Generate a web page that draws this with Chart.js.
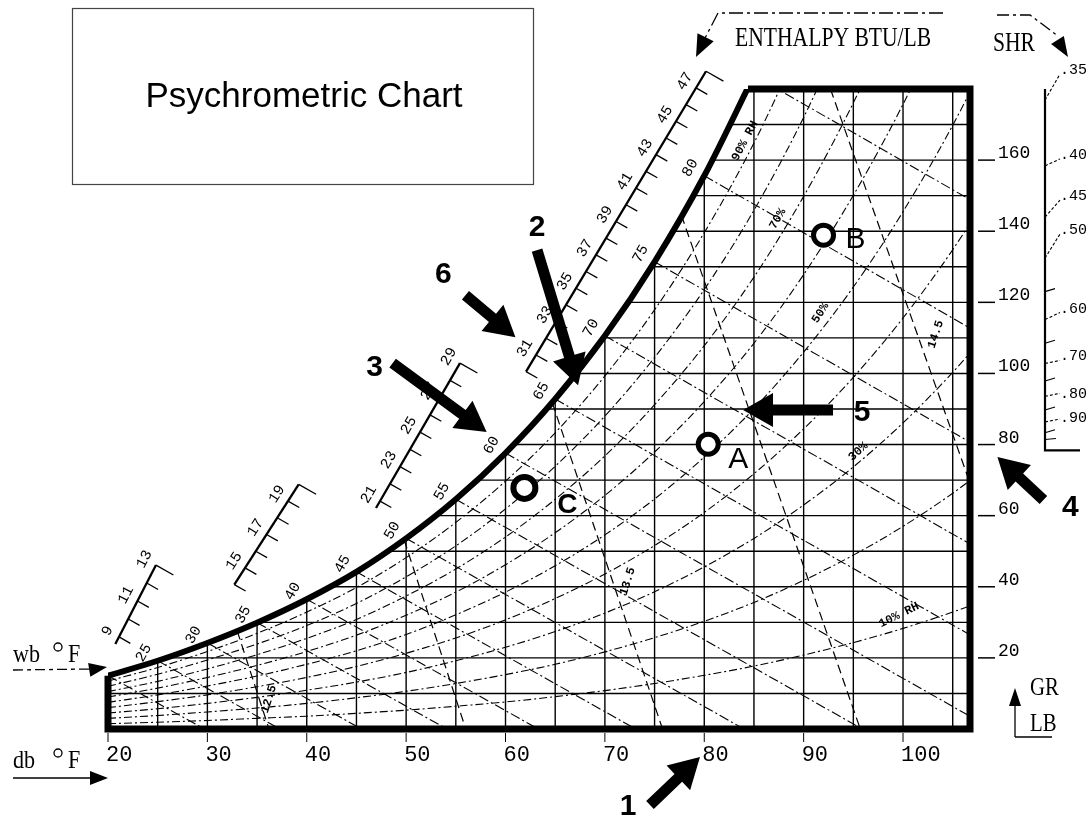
<!DOCTYPE html>
<html>
<head>
<meta charset="utf-8">
<title>Psychrometric Chart</title>
<script src="https://cdn.jsdelivr.net/npm/chart.js@4.4.1/dist/chart.umd.min.js"></script>
<style>
  html, body { margin: 0; padding: 0; background: #fff; }
  canvas { display: block; }
</style>
</head>
<body>
<canvas id="psy" width="1090" height="820"></canvas>
<script>
// dry bulb in F, humidity ratio in grains per lb of dry air
const dbLabels = [20, 30, 40, 50, 60, 70, 80, 90, 100];
const grLabels = [20, 40, 60, 80, 100, 120, 140, 160];

// saturation (100% rh) curve
const satDb = [20, 25, 30, 35, 40, 45, 50, 55, 60, 65, 70, 75, 80, 85];
const satGr = [15.0, 19.2, 24.2, 29.9, 36.5, 44.2, 53.6, 64.6, 77.6, 92.8, 110.6, 131.4, 155.6, 183.8];
const topCornerDb = 84.4;

// grid lines
const dbGrid = [25, 30, 35, 40, 45, 50, 55, 60, 65, 70, 75, 80, 85, 90, 95, 100, 105];
const grGrid = [10, 20, 30, 40, 50, 60, 70, 80, 90, 100, 110, 120, 130, 140, 150, 160, 170];
const grGridStartDb = [20, 25.8, 35.1, 42.3, 48.1, 52.9, 57.1, 60.8, 64.1, 67.0, 69.8, 72.3, 74.7, 76.8, 78.8, 80.8, 82.6];

// relative humidity curves
const rhDb = [20, 25, 30, 35, 40, 45, 50, 55, 60, 65, 70, 75, 80, 85, 90, 95, 100, 105, 110];
const rh10 = [1.5, 1.9, 2.4, 3.0, 3.6, 4.4, 5.3, 6.4, 7.6, 9.1, 10.8, 12.8, 15.1, 17.7, 20.8, 24.3, 28.3, 32.9, 38.1];
const rh20 = [3.0, 3.8, 4.8, 5.9, 7.2, 8.8, 10.6, 12.8, 15.3, 18.2, 21.7, 25.7, 30.3, 35.6, 41.8, 48.9, 57.0, 66.3, 76.9];
const rh30 = [4.5, 5.7, 7.2, 8.9, 10.9, 13.2, 15.9, 19.2, 23.0, 27.4, 32.6, 38.6, 45.6, 53.6, 63.0, 73.7, 86.1, 100.3, 116.4];
const rh40 = [6.0, 7.7, 9.6, 11.9, 14.5, 17.6, 21.3, 25.6, 30.7, 36.7, 43.6, 51.6, 60.9, 71.8, 84.4, 98.9, 115.6, 134.8, 156.6];
const rh50 = [7.5, 9.6, 12.1, 14.9, 18.2, 22.0, 26.6, 32.1, 38.5, 45.9, 54.6, 64.7, 76.5, 90.1, 106.0, 124.3, 145.5, 169.8, 197.5];
const rh60 = [9.0, 11.5, 14.5, 17.9, 21.8, 26.4, 32.0, 38.5, 46.2, 55.2, 65.7, 77.9, 92.1, 108.5, 127.8, 150.1, 175.7, 205.4];
const rh70 = [10.5, 13.4, 16.9, 20.9, 25.5, 30.8, 37.4, 45.0, 54.0, 64.6, 76.8, 91.2, 107.8, 127.1, 149.8, 176.1, 206.3];
const rh80 = [12.0, 15.4, 19.4, 23.9, 29.1, 35.3, 42.8, 51.5, 61.9, 73.9, 88.0, 104.5, 123.6, 145.9, 172.0, 202.4];
const rh90 = [13.5, 17.3, 21.8, 26.9, 32.9, 39.8, 48.2, 58.1, 69.7, 83.3, 99.3, 117.9, 139.6, 164.8, 194.5];

// wet bulb lines: start on saturation, end at 0 grains
const wbDb = [20, 25, 30, 35, 40, 45, 50, 55, 60, 65, 70, 75, 80, 85];
const wbEndDb = [29.7, 37.3, 45.5, 54.1, 63.3, 73.1, 84.0, 95.9, 109.0, 123.4, 139.4, 157.2, 177.1, 199.4];
const wbLabelDb = [25, 30, 35, 40, 45, 50, 55, 60, 65, 70, 75, 80];

// specific volume lines (cu ft / lb)
const volCuft = [12.5, 13.0, 13.5, 14.0, 14.5];
const volBottomDb = [36.2, 56.0, 75.8, 95.7, 115.5];
const volTopDb = [33.0, 49.8, 64.7, 77.7, 92.7];
const volTopGr = [27.6, 53.2, 91.8, 144.5, 180];

// enthalpy scale (btu / lb)
const hLabels = [9, 11, 13, 15, 17, 19, 21, 23, 25, 27, 29, 31, 33, 35, 37, 39, 41, 43, 45, 47];

// sensible heat ratio scale
const shrTicks = [0.35, 0.40, 0.45, 0.50, 0.55, 0.60, 0.65, 0.70, 0.75, 0.80, 0.85, 0.90, 0.95];
const shrLabeled = [0.35, 0.40, 0.45, 0.50, 0.60, 0.70, 0.80, 0.90];

// marked states
const ptNames = ['A', 'B', 'C'];
const ptDb = [80.4, 92.0, 61.9];
const ptGr = [80.1, 138.9, 67.8];

const yTop = 180;
const satAt = (t) => { const i = satDb.indexOf(t); return i >= 0 ? satGr[i] : yTop; };

const datasets = [];
function addLine(pts, opts) {
  datasets.push(Object.assign({
    data: pts, showLine: true, pointRadius: 0, borderColor: '#000',
    borderWidth: 1.3, fill: false
  }, opts || {}));
}

// points on top
datasets.push({
  data: ptDb.map((t, i) => ({ x: t, y: ptGr[i] })),
  showLine: false, pointRadius: [10, 10, 11], borderWidth: [5, 5, 6],
  borderColor: '#000', backgroundColor: '#fff', clip: false
});

// outer frame + saturation curve
addLine([
  { x: 20, y: satGr[0] }, { x: 20, y: 0 }, { x: 106.74, y: 0 },
  { x: 106.74, y: yTop }, { x: topCornerDb, y: yTop }
], { borderWidth: 7, clip: false, borderJoinStyle: 'miter' });
addLine(satDb.map((t, i) => ({ x: t, y: satGr[i] })),
  { borderWidth: 6, cubicInterpolationMode: 'monotone' });

// grid
dbGrid.forEach(t => addLine([{ x: t, y: 0 }, { x: t, y: satAt(t) }], { borderWidth: 1.4 }));
grGrid.forEach((g, i) => addLine([{ x: grGridStartDb[i], y: g }, { x: 106.74, y: g }], { borderWidth: 1.4 }));

// rh curves
[rh10, rh20, rh30, rh40, rh50, rh60, rh70, rh80, rh90].forEach(arr => {
  addLine(arr.map((g, i) => ({ x: rhDb[i], y: g })),
    { borderWidth: 1.1, borderDash: [8, 3, 2, 3], cubicInterpolationMode: 'monotone' });
});

// wet bulb lines
wbDb.forEach((t, i) => addLine([{ x: t, y: satAt(t) }, { x: wbEndDb[i], y: 0 }],
  { borderWidth: 1.1, borderDash: [10, 3, 2, 3] }));

// specific volume lines
volCuft.forEach((v, i) => addLine([{ x: volTopDb[i], y: volTopGr[i] }, { x: volBottomDb[i], y: 0 }],
  { borderWidth: 1.2, borderDash: [9, 5] }));

function condText(ctx, s, x, y, size, sx) {
  ctx.save();
  ctx.translate(x, y);
  ctx.scale(sx, 1);
  ctx.font = size + "px 'Liberation Serif', serif";
  ctx.textAlign = 'left';
  ctx.textBaseline = 'alphabetic';
  ctx.fillText(s, 0, 0);
  ctx.restore();
}

function rotText(ctx, s, x, y, ang, font) {
  ctx.save();
  ctx.translate(x, y);
  ctx.rotate(ang);
  ctx.font = font;
  ctx.textAlign = 'center';
  ctx.textBaseline = 'middle';
  ctx.fillText(s, 0, 0);
  ctx.restore();
}

function bigArrow(ctx, x0, y0, x1, y1, w, hl, hw) {
  const dx = x1 - x0, dy = y1 - y0, L = Math.hypot(dx, dy);
  const ux = dx / L, uy = dy / L, nx = -uy, ny = ux;
  const bx = x1 - ux * hl, by = y1 - uy * hl;
  ctx.beginPath();
  ctx.moveTo(x0 + nx * w / 2, y0 + ny * w / 2);
  ctx.lineTo(bx + nx * w / 2, by + ny * w / 2);
  ctx.lineTo(bx + nx * hw / 2, by + ny * hw / 2);
  ctx.lineTo(x1, y1);
  ctx.lineTo(bx - nx * hw / 2, by - ny * hw / 2);
  ctx.lineTo(bx - nx * w / 2, by - ny * w / 2);
  ctx.lineTo(x0 - nx * w / 2, y0 - ny * w / 2);
  ctx.closePath();
  ctx.fill();
}

function head(ctx, x0, y0, x1, y1, hl, hw) {
  const dx = x1 - x0, dy = y1 - y0, L = Math.hypot(dx, dy);
  const ux = dx / L, uy = dy / L, nx = -uy, ny = ux;
  const bx = x1 - ux * hl, by = y1 - uy * hl;
  ctx.beginPath();
  ctx.moveTo(x1, y1);
  ctx.lineTo(bx + nx * hw / 2, by + ny * hw / 2);
  ctx.lineTo(bx - nx * hw / 2, by - ny * hw / 2);
  ctx.closePath();
  ctx.fill();
}

const decor = {
  id: 'decor',
  afterDraw(chart) {
    const ctx = chart.ctx;
    const area = chart.chartArea;
    const sx = chart.scales.x, sy = chart.scales.y, ss = chart.scales.yShr;
    const X = v => sx.getPixelForValue(v);
    const Y = v => sy.getPixelForValue(v);
    const mono = "'Liberation Mono', 'DejaVu Sans Mono', monospace";
    ctx.save();
    ctx.fillStyle = '#000';
    ctx.strokeStyle = '#000';

    // title box
    ctx.lineWidth = 1.2;
    ctx.strokeStyle = '#444';
    ctx.strokeRect(72.5, 8.5, 461, 176);
    ctx.strokeStyle = '#000';
    ctx.font = "35px 'Liberation Sans', Arial, sans-serif";
    ctx.textAlign = 'center';
    ctx.textBaseline = 'middle';
    ctx.fillText('Psychrometric Chart', 304, 97);

    // dry bulb labels
    ctx.font = '22px ' + mono;
    ctx.textAlign = 'left';
    ctx.lineWidth = 1;
    dbLabels.forEach(t => {
      const x = X(t);
      ctx.beginPath(); ctx.moveTo(x, area.bottom + 4); ctx.lineTo(x, area.bottom + 13); ctx.stroke();
      ctx.fillText(String(t), x - 2, area.bottom + 26);
    });

    // grains labels
    ctx.font = '18px ' + mono;
    ctx.textBaseline = 'alphabetic';
    ctx.lineWidth = 1.5;
    grLabels.forEach(g => {
      const y = Y(g);
      ctx.beginPath(); ctx.moveTo(area.right + 8, y); ctx.lineTo(area.right + 25, y); ctx.stroke();
      ctx.fillText(String(g), area.right + 28, y - 2);
    });

    // GR / LB
    ctx.lineWidth = 1.3;
    const gx = area.right + 45;
    ctx.beginPath(); ctx.moveTo(gx, 737); ctx.lineTo(gx, 704); ctx.stroke();
    ctx.beginPath(); ctx.moveTo(gx, 737); ctx.lineTo(gx + 37, 737); ctx.stroke();
    head(ctx, gx, 737, gx, 688, 18, 12);
    condText(ctx, 'GR', gx + 15, 695, 26, 0.8);
    condText(ctx, 'LB', gx + 15, 731, 26, 0.8);

    // wb / db arrows
    ctx.lineWidth = 1.3;
    condText(ctx, 'wb', 13, 662, 26, 0.85);
    condText(ctx, 'F', 68, 662, 26, 0.85);
    condText(ctx, 'db', 13, 768, 26, 0.85);
    condText(ctx, 'F', 68, 768, 26, 0.85);
    ctx.beginPath(); ctx.arc(58, 647, 4, 0, Math.PI * 2); ctx.stroke();
    ctx.beginPath(); ctx.arc(58, 753, 4, 0, Math.PI * 2); ctx.stroke();
    ctx.setLineDash([10, 4, 4, 4]);
    ctx.beginPath(); ctx.moveTo(13, 670); ctx.lineTo(92, 669); ctx.stroke();
    ctx.setLineDash([]);
    head(ctx, 88, 670, X(20) - 1, 667, 18, 14);
    ctx.beginPath(); ctx.moveTo(13, 778); ctx.lineTo(92, 778); ctx.stroke();
    head(ctx, 88, 778, X(20), 778, 18, 14);

    // enthalpy header
    condText(ctx, 'ENTHALPY BTU/LB', 735, 46, 27, 0.8);
    ctx.setLineDash([14, 4, 3, 4]);
    ctx.beginPath(); ctx.moveTo(943, 13); ctx.lineTo(718, 13); ctx.lineTo(704, 40); ctx.stroke();
    ctx.setLineDash([]);
    head(ctx, 712, 24, 696, 57, 22, 18);

    // SHR header and scale
    condText(ctx, 'SHR', 993, 51, 27, 0.8);
    ctx.setLineDash([12, 4, 3, 4]);
    ctx.beginPath(); ctx.moveTo(997, 15); ctx.lineTo(1030, 15); ctx.lineTo(1058, 36); ctx.stroke();
    ctx.setLineDash([]);
    head(ctx, 1050, 28, 1068, 57, 20, 15);

    const shx = area.right + 75;
    const shBottom = ss.getPixelForValue(0) + 8;
    ctx.lineWidth = 2.2;
    ctx.beginPath(); ctx.moveTo(shx, area.top); ctx.lineTo(shx, shBottom); ctx.lineTo(shx + 35, shBottom); ctx.stroke();
    ctx.font = '15px ' + mono;
    ctx.textAlign = 'left';
    ctx.textBaseline = 'middle';
    // label lift above its tick, as printed
    const shrLift = { '0.35': 26, '0.40': 7, '0.45': 17, '0.50': 24, '0.60': 7, '0.70': 3, '0.80': -2, '0.90': 0 };
    shrTicks.forEach(s => {
      const y = ss.getPixelForValue((1 - s) / s);
      const key = s.toFixed(2);
      const lab = shrLabeled.indexOf(s) >= 0;
      ctx.lineWidth = 1.1;
      ctx.setLineDash(lab ? [3, 2] : []);
      ctx.beginPath();
      ctx.moveTo(shx, y);
      if (lab) ctx.lineTo(shx + 15, y - Math.max(shrLift[key], 3)); else ctx.lineTo(shx + 10, y - 3);
      ctx.stroke();
      ctx.setLineDash([]);
      if (lab) ctx.fillText(key.slice(1), shx + 15, y - shrLift[key] - 4);
    });
    ctx.lineWidth = 1.1;
    ctx.beginPath(); ctx.moveTo(shx, shBottom - 11); ctx.lineTo(shx + 11, shBottom - 12); ctx.stroke();

    // wet bulb direction, taken from the 60F wet bulb line
    const wi = wbDb.indexOf(60);
    const wx0 = X(60), wy0 = Y(satAt(60)), wx1 = X(wbEndDb[wi]), wy1 = Y(0);
    const wl = Math.hypot(wx1 - wx0, wy1 - wy0);
    const wdx = (wx1 - wx0) / wl, wdy = (wy1 - wy0) / wl;
    const labAng = Math.atan2(-wdx, wdy);

    // enthalpy scale segments
    const segs = [
      { h0: 8.6, h1: 13, a: [9, 21.11, 25.9], b: [13, 24.83, 46.1] },
      { h0: 14, h1: 20, a: [15, 33.79, 45.3], b: [19, 38.11, 64.1] },
      { h0: 20.6, h1: 29, a: [21, 47.37, 64.1], b: [29, 55.42, 102.9] },
      { h0: 30, h1: 48, a: [31, 63.07, 105.2], b: [47, 79.17, 180.3] }
    ];
    ctx.textAlign = 'center';
    segs.forEach(sg => {
      const ax = X(sg.a[1]), ay = Y(sg.a[2]), bx = X(sg.b[1]), by = Y(sg.b[2]);
      const P = h => {
        const f = (h - sg.a[0]) / (sg.b[0] - sg.a[0]);
        return [ax + (bx - ax) * f, ay + (by - ay) * f];
      };
      const p0 = P(sg.h0), p1 = P(sg.h1);
      const L = Math.hypot(p1[0] - p0[0], p1[1] - p0[1]);
      const ux = (p1[0] - p0[0]) / L, uy = (p1[1] - p0[1]) / L;
      const nx = uy, ny = -ux;
      ctx.lineWidth = 2.3;
      ctx.beginPath(); ctx.moveTo(p0[0], p0[1]); ctx.lineTo(p1[0], p1[1]); ctx.stroke();
      ctx.lineWidth = 1.3;
      for (let h = Math.ceil(sg.h0); h <= Math.floor(sg.h1); h++) {
        const p = P(h);
        const len = h === Math.floor(sg.h1) ? 20 : 13;
        ctx.beginPath(); ctx.moveTo(p[0], p[1]); ctx.lineTo(p[0] + wdx * len, p[1] + wdy * len); ctx.stroke();
        if (hLabels.indexOf(h) >= 0) {
          rotText(ctx, String(h), p[0] + nx * 13, p[1] + ny * 13, Math.atan2(uy, ux), '15px ' + mono);
        }
      }
    });

    // wet bulb labels on the saturation curve
    wbLabelDb.forEach(t => {
      const x = X(t) - wdx * 16, y = Y(satAt(t)) - wdy * 16;
      rotText(ctx, String(t), x, y, labAng, '15px ' + mono);
    });

    // curve labels
    const small = "bold 12px " + mono;
    [
      ['10% RH', 99.6, 32.0, -26], ['30%', 95.5, 78.0, -42], ['50%', 91.7, 117.0, -58],
      ['70%', 87.4, 143.5, -60], ['90% RH', 84.1, 165.4, -62]
    ].forEach(l => rotText(ctx, l[0], X(l[1]), Y(l[2]), l[3] * Math.PI / 180, small));
    [['12.5', 36.2, 8.4], ['13.5', 72.3, 41.5], ['14.5', 103.3, 111.0]].forEach(l =>
      rotText(ctx, l[0], X(l[1]), Y(l[2]), -72 * Math.PI / 180, small));

    // point labels
    ctx.textAlign = 'center';
    ctx.textBaseline = 'middle';
    const ptOff = [[30, 16], [32, 5], [43, 17]];
    ptNames.forEach((n, i) => {
      ctx.font = n === 'C'
        ? "bold 28px 'Liberation Sans', Arial, sans-serif"
        : "30px 'Liberation Sans', Arial, sans-serif";
      ctx.fillText(n, X(ptDb[i]) + ptOff[i][0], Y(ptGr[i]) + ptOff[i][1]);
    });

    // numbered arrows
    const arrows = [
      { n: '1', T: 79.57, W: -7.9, dx: -50, dy: 48, lx: -22, ly: 2 },
      { n: '2', T: 67.3, W: 96.7, dx: -41, dy: -135, lx: 0, ly: -22 },
      { n: '3', T: 58.1, W: 83.5, dx: -94, dy: -69, lx: -18, ly: 5 },
      { n: '4', T: 109.5, W: 76.5, dx: 46, dy: 43, lx: 27, ly: 8 },
      { n: '5', T: 83.9, W: 89.7, dx: 90, dy: 0, lx: 29, ly: 3 },
      { n: '6', T: 61.0, W: 110.2, dx: -50, dy: -42, lx: -22, ly: -20 }
    ];
    ctx.font = "bold 30px 'Liberation Sans', Arial, sans-serif";
    arrows.forEach(a => {
      const tx = X(a.T), ty = Y(a.W);
      const ox = tx + a.dx, oy = ty + a.dy;
      bigArrow(ctx, ox, oy, tx, ty, 11, 30, 34);
      ctx.fillText(a.n, ox + a.lx, oy + a.ly);
    });

    ctx.restore();
  }
};

new Chart(document.getElementById('psy'), {
  type: 'scatter',
  data: { datasets },
  options: {
    responsive: false,
    animation: false,
    devicePixelRatio: 1,
    events: [],
    layout: { padding: { left: 108, right: 120, top: 89, bottom: 91 } },
    scales: {
      x: { type: 'linear', min: 20, max: 106.74, display: false },
      y: { type: 'linear', min: 0, max: yTop, display: false },
      yShr: { type: 'linear', min: -1.554, max: 1.917, display: false }
    },
    plugins: { legend: { display: false }, tooltip: { enabled: false } }
  },
  plugins: [decor]
});
</script>
</body>
</html>
